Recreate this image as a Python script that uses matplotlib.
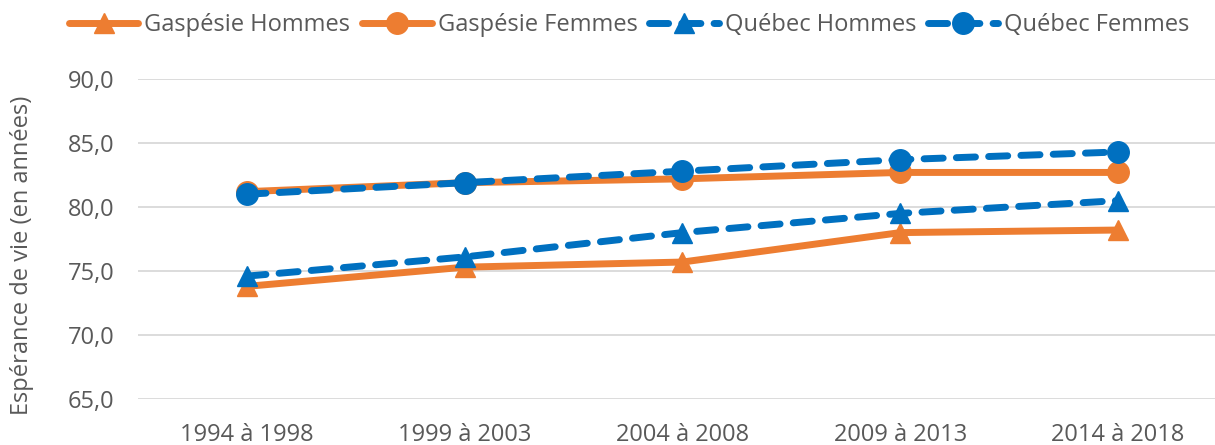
import matplotlib
matplotlib.use("Agg")
import matplotlib.pyplot as plt

categories = ["1994 à 1998", "1999 à 2003", "2004 à 2008", "2009 à 2013", "2014 à 2018"]
gaspesie_hommes = [73.8, 75.3, 75.7, 78.0, 78.2]
gaspesie_femmes = [81.2, 81.9, 82.2, 82.7, 82.7]
quebec_hommes = [74.6, 76.1, 78.0, 79.5, 80.5]
quebec_femmes = [81.0, 81.9, 82.8, 83.7, 84.3]
yticks = [65, 70, 75, 80, 85, 90]

plt.rcParams['font.family'] = ['Open Sans', 'DejaVu Sans']
ORANGE = "#ED7D31"
BLUE = "#0070C0"
GRAY = "#595959"
FS = 17

fig = plt.figure(figsize=(12.15, 4.45), dpi=100)
ax = fig.add_axes([138/1215, 1-399/445, (1227-138)/1215, (399-79)/445])

x = list(range(len(categories)))
lw = 5
dash = (0, (2.75, 1.9))
ax.plot(x, gaspesie_hommes, color=ORANGE, lw=lw, marker="^", ms=14.5,
        solid_capstyle="round", label="Gaspésie Hommes", zorder=3)
ax.plot(x, gaspesie_femmes, color=ORANGE, lw=lw, marker="o", ms=15.5,
        solid_capstyle="round", label="Gaspésie Femmes", zorder=3)
ax.plot(x, quebec_hommes, color=BLUE, lw=lw, marker="^", ms=14.5,
        linestyle=dash, dash_capstyle="round", label="Québec Hommes", zorder=4)
ax.plot(x, quebec_femmes, color=BLUE, lw=lw, marker="o", ms=15.5,
        linestyle=dash, dash_capstyle="round", label="Québec Femmes", zorder=4)

ax.set_xlim(-0.5, len(categories) - 0.5)
ax.set_ylim(65, 90)
ax.set_yticks(yticks)
ax.set_yticklabels([f"{v:.1f}".replace(".", ",") for v in yticks])
ax.set_xticks(x)
ax.set_xticklabels(categories)
ax.tick_params(axis="both", length=0, labelsize=FS, colors=GRAY)
ax.tick_params(axis="y", pad=17)
ax.tick_params(axis="x", pad=17)
ax.grid(axis="y", color="#D9D9D9", lw=1.3)
ax.set_axisbelow(True)
for s in ax.spines.values():
    s.set_visible(False)

fig.text(22/1215, 1-255/445, "Espérance de vie (en années)", rotation=90,
         ha="center", va="center", fontsize=FS, color=GRAY)

leg = fig.legend(loc="center", bbox_to_anchor=(629/1215, 1-25/445), ncol=4,
                 frameon=False, fontsize=FS, handlelength=2.95, handletextpad=0.25,
                 columnspacing=0.5, labelcolor=GRAY)

fig.savefig("out.png", dpi=100)
